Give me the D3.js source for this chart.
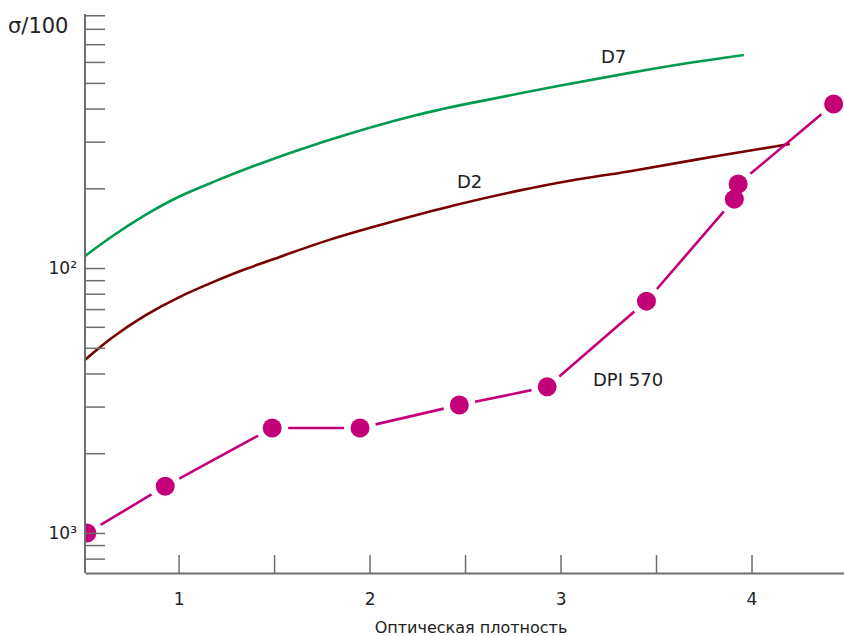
<!DOCTYPE html>
<html>
<head>
<meta charset="utf-8">
<script src="https://cdn.jsdelivr.net/npm/d3@7"></script>
<style>
  body { margin: 0; background: #fff; }
  svg { display: block; font-family: "DejaVu Sans", sans-serif; }
  .axis path, .axis line { stroke: #6e6e6e; }
  .axis path { stroke-width: 2; }
  .axis line { stroke-width: 1.5; }
  .axis text { fill: #222; font-size: 17px; font-family: "DejaVu Sans", sans-serif; }
  .lbl { fill: #222; font-size: 18px; }
</style>
</head>
<body>
<script>
// D7 curve (optical density -> value)
var d7X = [0.51, 0.65, 0.83, 1.0, 1.18, 1.36, 1.74, 2.26, 2.61, 3.0, 3.35, 3.69, 3.96];
var d7Y = [11100, 13200, 16000, 18700, 21100, 23850, 29900, 38500, 43000, 49000, 54400, 59900, 63700];

// D2 curve
var d2X = [0.51, 0.65, 0.83, 1.0, 1.18, 1.36, 1.53, 1.79, 2.09, 2.44, 2.79, 3.05, 3.35, 3.69, 4.2];
var d2Y = [4500, 5490, 6700, 7780, 8860, 10000, 11000, 12870, 14780, 17290, 19700, 21480, 23030, 25560, 29400];

// DPI 570 measured points
var dpiX = [0.52, 0.93, 1.49, 1.95, 2.47, 2.93, 3.45, 3.91, 3.93, 4.43];
var dpiY = [1000, 1500, 2490, 2490, 3040, 3560, 7500, 18200, 20750, 41600];

// axis ticks
var xTicks = [1, 1.5, 2, 2.5, 3, 3.5, 4];
var xTickLabels = ["1", "", "2", "", "3", "", "4"];
var yTicks = [800, 900, 1000, 2000, 3000, 4000, 5000, 6000, 7000, 8000, 9000,
              10000, 20000, 30000, 40000, 50000, 60000, 70000, 80000, 90000];
var yTickValues = [1000, 10000];
var yTickLabels = ["10\u00b3", "10\u00b2"];

var width = 844, height = 636;
var plotLeft = 85, plotRight = 847, plotTop = 14, plotBottom = 573;

var svg = d3.select("body").append("svg")
    .attr("width", width)
    .attr("height", height);

var x = d3.scaleLinear().domain([0.51, 4.5]).range([plotLeft, plotRight]);
var y = d3.scaleLog().domain([706, 91000]).range([plotBottom, plotTop]);

svg.append("defs").append("clipPath").attr("id", "plot")
  .append("rect")
    .attr("x", plotLeft + 1).attr("y", 0)
    .attr("width", width - plotLeft).attr("height", plotBottom);

var plot = svg.append("g").attr("clip-path", "url(#plot)");

//curves
var line = d3.line()
    .x(function(d){ return x(d[0]); })
    .y(function(d){ return y(d[1]); })
    .curve(d3.curveBasis);

plot.append("path")
    .datum(d7X.map(function(v, i){ return [v, d7Y[i]]; }))
    .attr("d", line)
    .attr("fill", "none")
    .attr("stroke", "#009b4e")
    .attr("stroke-width", 2.6);

plot.append("path")
    .datum(d2X.map(function(v, i){ return [v, d2Y[i]]; }))
    .attr("d", line)
    .attr("fill", "none")
    .attr("stroke", "#780000")
    .attr("stroke-width", 2.6);

//DPI 570: segments stop short of the dots
var pts = dpiX.map(function(v, i){ return [x(v), y(dpiY[i])]; });
var gap = 16;
var segs = [];
for (var i = 0; i < pts.length - 1; i++){
    var a = pts[i], b = pts[i + 1];
    var dx = b[0] - a[0], dy = b[1] - a[1];
    var len = Math.sqrt(dx * dx + dy * dy);
    if (len <= gap * 2) continue;
    var ux = dx / len, uy = dy / len;
    segs.push([a[0] + ux * gap, a[1] + uy * gap, b[0] - ux * gap, b[1] - uy * gap]);
}
plot.selectAll(".seg")
    .data(segs)
    .enter()
    .append("line")
    .attr("class", "seg")
    .attr("x1", function(d){ return d[0]; })
    .attr("y1", function(d){ return d[1]; })
    .attr("x2", function(d){ return d[2]; })
    .attr("y2", function(d){ return d[3]; })
    .attr("stroke", "#c40078")
    .attr("stroke-width", 2.6);

plot.selectAll(".dot")
    .data(dpiX)
    .enter()
    .append("circle")
    .attr("class", "dot")
    .attr("cx", function(d){ return x(d); })
    .attr("cy", function(d, i){ return y(dpiY[i]); })
    .attr("r", 9.5)
    .attr("fill", "#c40078");

//axes
var xAxis = d3.axisBottom(x)
    .tickValues(xTicks)
    .tickSizeInner(-18)
    .tickSizeOuter(0)
    .tickPadding(20)
    .tickFormat(function(d, i){ return xTickLabels[i]; });

svg.append("g")
    .attr("class", "axis")
    .attr("transform", "translate(0," + plotBottom + ")")
    .call(xAxis);

var yAxis = d3.axisLeft(y)
    .tickValues(yTicks)
    .tickSizeInner(-20)
    .tickSizeOuter(0)
    .tickPadding(8)
    .tickFormat(function(d){
        var k = yTickValues.indexOf(d);
        return k < 0 ? "" : yTickLabels[k];
    });

var gy = svg.append("g")
    .attr("class", "axis")
    .attr("transform", "translate(" + plotLeft + ",0)")
    .call(yAxis);
gy.select(".domain").attr("d", "M0," + plotTop + "V" + plotBottom);

//labels
svg.append("text").attr("class", "lbl")
    .attr("x", 8).attr("y", 33)
    .style("font-size", "21px")
    .text("\u03c3/100");

svg.append("text").attr("class", "lbl")
    .attr("x", 601).attr("y", 63)
    .text("D7");

svg.append("text").attr("class", "lbl")
    .attr("x", 457).attr("y", 188)
    .text("D2");

svg.append("text").attr("class", "lbl")
    .attr("x", 593).attr("y", 386)
    .text("DPI 570");

svg.append("text")
    .attr("x", 471).attr("y", 633)
    .attr("text-anchor", "middle")
    .style("font-size", "16px")
    .style("fill", "#222")
    .text("Оптическая плотность");
</script>
</body>
</html>
